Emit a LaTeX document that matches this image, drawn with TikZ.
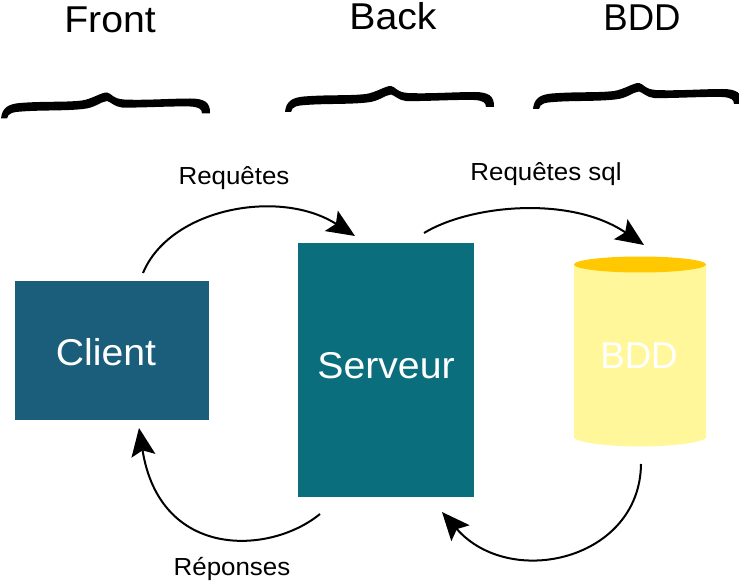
\documentclass[tikz,border=0pt]{standalone}
\usepackage{fontspec}
\setmainfont[FakeStretch=1.05]{Liberation Sans}
\newfontfamily\narrowsans[FakeStretch=0.98]{Liberation Sans}
\usetikzlibrary{arrows.meta}
\definecolor{clientblue}{HTML}{1B5E7B}
\definecolor{serverteal}{HTML}{0B6E7C}
\definecolor{cylbody}{HTML}{FFF799}
\definecolor{cyltop}{HTML}{FFC800}
\tikzset{
  x=0.75pt,y=-0.75pt,
  bigtext/.style={inner sep=0pt,anchor=base,font=\fontsize{28}{30}\selectfont},
  nartext/.style={inner sep=0pt,anchor=base,font=\narrowsans\fontsize{28}{30}\selectfont},
  smalltext/.style={inner sep=0pt,anchor=base,font=\fontsize{18.5}{20}\selectfont},
  boxlabel/.style={bigtext,text=white},
  tierbox/.style={draw=none,inner sep=0pt,anchor=north west},
  flow/.style={draw=black,line width=1.5pt,-{Stealth[length=21pt,width=18pt,inset=4pt]}},
  bracepic/.pic={
    \fill[black] (1,118.5) .. controls (2,108) and (8,104) .. (20,103)
      .. controls (45,101) and (65,102.5) .. (82,100.5)
      .. controls (92,99) and (102,92) .. (107,92.5)
      .. controls (111,93) and (113,99) .. (124,99.5)
      .. controls (145,100.5) and (170,98.5) .. (190,98.5)
      .. controls (204,98.5) and (210.5,102) .. (210,113.5)
      -- (202,113.5) .. controls (202,109) and (199,107) .. (190,106.5)
      .. controls (170,106) and (140,108) .. (122,107.5)
      .. controls (115,107) and (110,101.5) .. (107,101)
      .. controls (101,101.5) and (95,108) .. (83,109)
      .. controls (65,111) and (40,110) .. (22,111.5)
      .. controls (13,112) and (8,113) .. (7,118.5) -- cycle;
  }
}
\begin{document}
\begin{tikzpicture}
\useasboundingbox (0,0) rectangle (739,581);
% column titles
\node[bigtext] (front) at (110,33) {Front};
\node[bigtext] (back) at (393,30) {Back};
\node[nartext] (bddtitle) at (642,31) {BDD};
% braces
\pic at (0,0) {bracepic};
\pic at (284,-6.5) {bracepic};
\pic at (532,-9.5) {bracepic};
% boxes
\node[tierbox,fill=clientblue,minimum width=145.5pt,minimum height=104.25pt] (client) at (15,281) {};
\node[tierbox,fill=serverteal,minimum width=132pt,minimum height=190.5pt] (serveur) at (298,243) {};
\node[boxlabel] (clienttext) at (106,365) {Client};
\node[boxlabel] (serveurtext) at (386,378.5) {Serveur};
% cylinder
\fill[cylbody] (574,264) -- (706,264) -- (706,438)
  .. controls (700,443) and (670,446.5) .. (640,446.5)
  .. controls (610,446.5) and (580,443) .. (574,438) -- cycle;
\fill[cyltop] (640,264.5) ellipse [x radius=66,y radius=8];
\node[nartext,text=white] (bdd) at (639,368.5) {BDD};
% flow labels
\node[smalltext] (req) at (234,185) {Requêtes};
\node[smalltext] (reqsql) at (546,181) {Requêtes sql};
\node[smalltext] (rep) at (232,575) {Réponses};
% connector ends
\coordinate (a1s) at (143,273);
\coordinate (a1e) at (355,236);
\coordinate (a2s) at (424,233);
\coordinate (a2e) at (644,245);
\coordinate (a3s) at (641,464);
\coordinate (a3e) at (442,512);
\coordinate (a4s) at (320,514);
\coordinate (a4e) at (139,428);
\draw[flow] (a1s) .. controls (170,208) and (280,188) .. (a1e);
\draw[flow] (a2s) .. controls (470,205) and (570,195) .. (a2e);
\draw[flow] (a3s) .. controls (640,560) and (510,590) .. (a3e);
\draw[flow] (a4s) .. controls (270,555) and (160,560) .. (a4e);
\end{tikzpicture}
\end{document}
